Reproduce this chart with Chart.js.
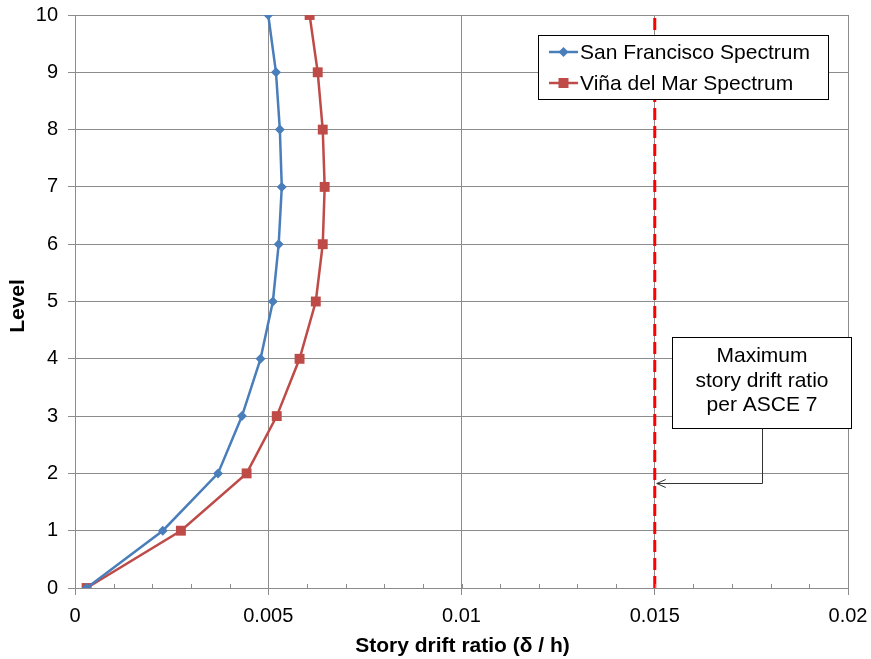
<!DOCTYPE html>
<html>
<head>
<meta charset="utf-8">
<script src="https://cdn.jsdelivr.net/npm/chart.js@4.4.1/dist/chart.umd.min.js"></script>
<style>
  html, body { margin: 0; padding: 0; background: #fff; }
  #wrap { width: 871px; height: 659px; }
</style>
</head>
<body>
<div id="wrap"><canvas id="driftChart" width="871" height="659"></canvas></div>
<script>
// story levels and drift ratios
const levels = [0, 1, 2, 3, 4, 5, 6, 7, 8, 9, 10];
const sanFrancisco = [0.0003, 0.00227, 0.0037, 0.00432, 0.0048, 0.00512, 0.00527, 0.00535, 0.0053, 0.0052, 0.005];
const vinaDelMar = [0.0003, 0.00274, 0.00444, 0.00522, 0.00581, 0.00623, 0.00641, 0.00646, 0.00641, 0.00628, 0.00607];
const driftLimit = 0.015;
const limitLevels = [0, 10];
const xTicks = [0, 0.005, 0.01, 0.015, 0.02];
const noteLines = ["Maximum", "story drift ratio", "per ASCE 7"];

const BLUE = "#4A7EBB";
const RED = "#BE4B48";
const GRID = "#8c8c8c";
const FONT = "'Liberation Sans', Arial, sans-serif";

const toPoints = (xs) => xs.map((x, i) => ({ x: x, y: levels[i] }));

// minor ticks, axis titles, legend box and the ASCE note
const extras = {
  id: "extras",
  afterDraw(chart) {
    const { ctx, chartArea: a, scales } = chart;
    const xs = scales.x, ys = scales.y;
    ctx.save();

    // minor x ticks every 0.001
    ctx.strokeStyle = GRID;
    ctx.lineWidth = 1;
    for (let v = 0.001; v < 0.02; v += 0.001) {
      const px = Math.round(xs.getPixelForValue(v)) + 0.5;
      ctx.beginPath();
      ctx.moveTo(px, a.bottom);
      ctx.lineTo(px, a.bottom - 4);
      ctx.stroke();
    }

    // axis titles
    ctx.fillStyle = "#000";
    ctx.font = "bold 21px " + FONT;
    ctx.textAlign = "center";
    ctx.textBaseline = "middle";
    ctx.fillText("Story drift ratio (\u03b4 / h)", (a.left + a.right) / 2 + 1, 646);
    ctx.save();
    ctx.translate(18, 306);
    ctx.rotate(-Math.PI / 2);
    ctx.fillText("Level", 0, 0);
    ctx.restore();

    // legend
    const lx = 538.5, ly = 35.5, lw = 290, lh = 64;
    ctx.fillStyle = "#fff";
    ctx.fillRect(lx, ly, lw, lh);
    ctx.strokeStyle = "#000";
    ctx.lineWidth = 1;
    ctx.strokeRect(lx, ly, lw, lh);
    ctx.font = "21px " + FONT;
    ctx.textAlign = "left";
    chart.data.datasets.slice(0, 2).forEach((ds, i) => {
      const cy = 52 + i * 31;
      ctx.strokeStyle = ds.borderColor;
      ctx.lineWidth = 2.5;
      ctx.beginPath();
      ctx.moveTo(549, cy);
      ctx.lineTo(578, cy);
      ctx.stroke();
      ctx.fillStyle = ds.borderColor;
      ctx.beginPath();
      if (ds.pointStyle === "rectRot") {
        ctx.moveTo(563.5 - 5, cy);
        ctx.lineTo(563.5, cy - 5);
        ctx.lineTo(563.5 + 5, cy);
        ctx.lineTo(563.5, cy + 5);
        ctx.closePath();
      } else {
        ctx.rect(558.5, cy - 5, 10, 10);
      }
      ctx.fill();
      ctx.fillStyle = "#000";
      ctx.fillText(ds.label, 580, cy + 1);
    });

    // note box placed in data units
    const bx0 = xs.getPixelForValue(0.01545), bx1 = xs.getPixelForValue(0.02008);
    const by0 = ys.getPixelForValue(4.385), by1 = ys.getPixelForValue(2.79);
    const bl = Math.round(bx0) + 0.5, bt = Math.round(by0) + 0.5;
    const bw = Math.round(bx1 - bx0), bh = Math.round(by1 - by0);
    ctx.fillStyle = "#fff";
    ctx.fillRect(bl, bt, bw, bh);
    ctx.strokeStyle = "#000";
    ctx.lineWidth = 1;
    ctx.strokeRect(bl, bt, bw, bh);
    ctx.fillStyle = "#000";
    ctx.font = "21px " + FONT;
    ctx.textAlign = "center";
    const cx = bl + bw / 2;
    noteLines.forEach((t, i) => ctx.fillText(t, cx, bt + 19 + i * 24.5));

    // connector with open arrow to the limit line
    const ax = Math.round(xs.getPixelForValue(0.01777)) + 0.5;
    const ay = Math.round(ys.getPixelForValue(1.827)) + 0.5;
    const tipX = xs.getPixelForValue(driftLimit) + 2;
    ctx.strokeStyle = "#333";
    ctx.beginPath();
    ctx.moveTo(ax, bt + bh);
    ctx.lineTo(ax, ay);
    ctx.lineTo(tipX, ay);
    ctx.stroke();
    ctx.beginPath();
    ctx.moveTo(tipX + 9, ay - 4);
    ctx.lineTo(tipX, ay);
    ctx.lineTo(tipX + 9, ay + 4);
    ctx.stroke();

    ctx.restore();
  }
};

const ctx = document.getElementById("driftChart").getContext("2d");
new Chart(ctx, {
  type: "scatter",
  data: {
    datasets: [
      {
        label: "San Francisco Spectrum",
        data: toPoints(sanFrancisco),
        showLine: true,
        borderColor: BLUE,
        backgroundColor: BLUE,
        borderWidth: 2.5,
        pointStyle: "rectRot",
        pointRadius: 5,
        pointBorderWidth: 0,
        tension: 0,
      },
      {
        label: "Viña del Mar Spectrum",
        data: toPoints(vinaDelMar),
        showLine: true,
        borderColor: RED,
        backgroundColor: RED,
        borderWidth: 2.5,
        pointStyle: "rect",
        pointRadius: 7,
        pointBorderWidth: 0,
        tension: 0,
      },
      {
        label: "Limit",
        data: limitLevels.map((l) => ({ x: driftLimit, y: l })),
        showLine: true,
        borderColor: "#FF0000",
        borderWidth: 3,
        borderDash: [12, 6],
        pointRadius: 0,
      },
    ],
  },
  options: {
    responsive: false,
    animation: false,
    layout: { padding: { top: 15, right: 23, left: 0, bottom: 0 } },
    plugins: {
      legend: { display: false },
      tooltip: { enabled: false },
    },
    scales: {
      x: {
        type: "linear",
        min: 0,
        max: 0.02,
        afterBuildTicks: (s) => { s.ticks = xTicks.map((v) => ({ value: v })); },
        afterFit: (s) => { s.height = 71; s.paddingLeft = 0; s.paddingRight = 0; },
        border: { color: GRID },
        grid: { color: GRID, tickLength: 7, tickColor: GRID },
        ticks: {
          color: "#000",
          font: { size: 20, family: FONT },
          padding: 9,
          callback: (v) => String(Math.round(v * 1000) / 1000),
        },
      },
      y: {
        min: 0,
        max: 10,
        afterFit: (s) => { s.width = 75; s.paddingTop = 0; s.paddingBottom = 0; },
        border: { color: GRID },
        grid: { color: GRID, tickLength: 7, tickColor: GRID },
        ticks: {
          stepSize: 1,
          color: "#000",
          font: { size: 20, family: FONT },
          padding: 10,
        },
      },
    },
  },
  plugins: [extras],
});
</script>
</body>
</html>
